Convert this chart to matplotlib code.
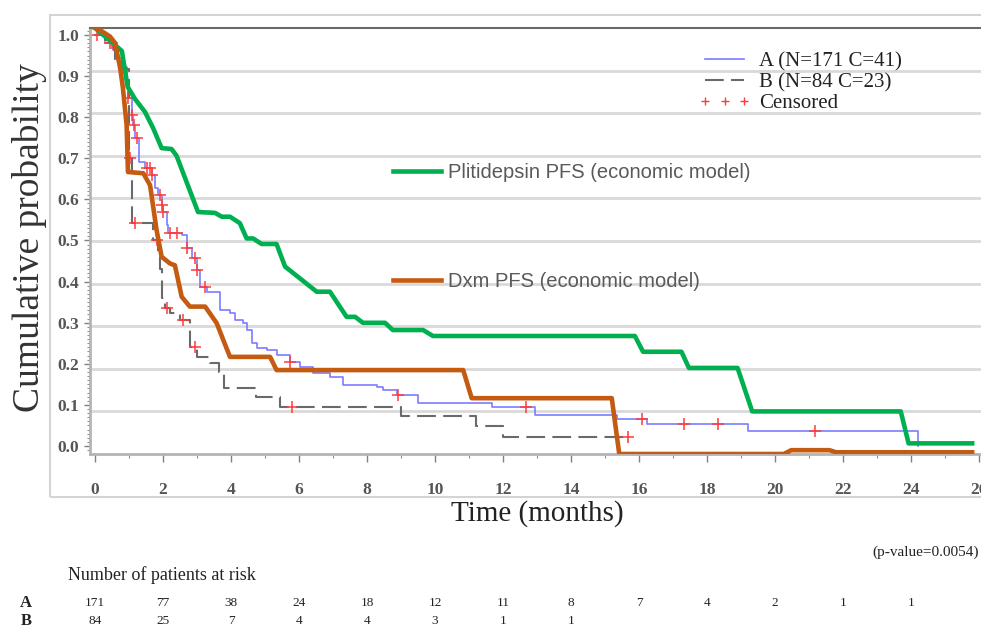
import numpy as np
import matplotlib.pyplot as plt
from matplotlib.lines import Line2D
from matplotlib.patches import Rectangle
from matplotlib.ticker import MultipleLocator, FormatStrFormatter

# --- KM curve A (step, SAS scale) ---
a_t = [0, 0.29, 0.53, 0.64, 0.83, 0.93, 0.98, 1.08, 1.13, 1.18, 1.28, 1.47, 1.67, 1.76,
       1.86, 1.96, 2.01, 2.11, 2.15, 2.55, 2.70, 2.84, 2.99, 3.09, 3.28, 3.68, 3.97, 4.12,
       4.36, 4.46, 4.61, 4.76, 5.05, 5.35, 5.74, 6.03, 6.42, 6.91, 7.30, 8.29, 8.48, 8.87,
       9.50, 11.67, 12.94, 15.34, 16.23, 19.22, 24.2]
a_p = [1.0, 0.98, 0.964, 0.945, 0.923, 0.87, 0.846, 0.805, 0.78, 0.749, 0.692, 0.676, 0.659,
       0.627, 0.611, 0.586, 0.57, 0.538, 0.518, 0.513, 0.481, 0.457, 0.428, 0.388, 0.375,
       0.331, 0.323, 0.307, 0.299, 0.282, 0.25, 0.238, 0.234, 0.221, 0.205, 0.193, 0.177,
       0.169, 0.148, 0.144, 0.136, 0.124, 0.104, 0.096, 0.075, 0.066, 0.054, 0.037, 0.0]
a_cens = [0.05, 0.44, 0.49, 0.98, 1.08, 1.16, 1.23, 1.52, 1.62, 1.67, 1.91, 1.96, 2.01, 2.21,
          2.40, 2.70, 2.94, 2.99, 3.24, 5.74, 8.92, 12.68, 16.10, 17.33, 18.33, 21.19]

# --- KM curve B (step, SAS scale) ---
b_t = [0, 0.30, 0.55, 0.60, 0.80, 1.00, 1.08, 1.72, 1.85, 1.91, 1.98, 2.05, 2.21, 2.50,
       2.79, 2.99, 3.38, 3.65, 3.78, 4.75, 5.45, 9.00, 11.20, 12.00, 15.68]
b_p = [1.0, 0.988, 0.964, 0.94, 0.917, 0.70, 0.542, 0.50, 0.46, 0.43, 0.36, 0.335, 0.323,
       0.307, 0.24, 0.217, 0.201, 0.18, 0.141, 0.12, 0.096, 0.073, 0.049, 0.023, 0.023]
b_cens = [1.03, 1.18, 1.81, 2.11, 2.60, 2.94, 5.79, 15.68]

# --- economic model curves (Excel overlay, own 0-1 scale) ---
pl_t = [0, 0.59, 0.79, 0.96, 1.18, 1.47, 1.71, 1.96, 2.25, 2.40, 3.03, 3.53, 3.73, 3.97,
        4.26, 4.46, 4.65, 4.90, 5.34, 5.59, 6.52, 6.91, 7.40, 7.65, 7.88, 8.53, 8.76, 9.65,
        9.94, 15.88, 16.12, 17.25, 17.47, 18.90, 19.33, 23.70, 23.93, 25.80]
pl_q = [1.0, 0.96, 0.946, 0.862, 0.833, 0.803, 0.765, 0.718, 0.716, 0.70, 0.568, 0.566,
        0.557, 0.557, 0.542, 0.506, 0.506, 0.493, 0.493, 0.44, 0.381, 0.381, 0.322, 0.322,
        0.308, 0.308, 0.291, 0.291, 0.277, 0.277, 0.24, 0.24, 0.202, 0.202, 0.10, 0.10,
        0.025, 0.025]
dx_t = [0, 0.15, 0.44, 0.59, 0.74, 0.82, 0.93, 0.97, 1.42, 1.62, 1.81, 1.96, 2.21, 2.35,
        2.55, 2.79, 3.24, 3.58, 3.87, 3.97, 5.15, 5.34, 10.83, 11.08, 15.20, 15.42, 20.26,
        20.48, 21.60, 21.80, 25.80]
dx_q = [1.0, 0.995, 0.98, 0.965, 0.906, 0.86, 0.772, 0.662, 0.659, 0.631, 0.526, 0.463,
        0.447, 0.443, 0.369, 0.346, 0.346, 0.307, 0.248, 0.228, 0.228, 0.197, 0.197, 0.131,
        0.131, 0.0, 0.0, 0.009, 0.009, 0.004, 0.004]

grid_levels = [0.1, 0.2, 0.3, 0.4, 0.5, 0.6, 0.7, 0.8, 0.9]

risk_times = [0, 2, 4, 6, 8, 10, 12, 14, 16, 18, 20, 22, 24]
risk_a = [171, 77, 38, 24, 18, 12, 11, 8, 7, 4, 2, 1, 1]
risk_b = [84, 25, 7, 4, 4, 3, 1, 1]

serif = 'Liberation Serif'
sans = 'Liberation Sans'

fig = plt.figure(figsize=(9.81, 6.28), dpi=100, facecolor='white')
pos = [90 / 981, 174 / 628, 891 / 981, 426 / 628]
xlim = (-0.147, 26.06)

# outer light frame
fig.patches.append(Rectangle((50 / 981, 131 / 628), 0.96, 482 / 628, transform=fig.transFigure,
                             fill=False, edgecolor='#d4d4d4', lw=1.5))

# gridlines of the overlay
ax_grid = fig.add_axes(pos)
ax_grid.set_xlim(xlim)
ax_grid.set_ylim(0, 1)
ax_grid.axis('off')
for g in grid_levels:
    ax_grid.axhline(g, color='#d9d9d9', lw=2)

# SAS Kaplan-Meier axes
ax = fig.add_axes(pos)
ax.patch.set_alpha(0)
ax.set_xlim(xlim)
ax.set_ylim(-0.0195, 1.017)


def step_val(ts, ps, t):
    i = np.searchsorted(ts, t, side='right') - 1
    return np.array(ps)[i]


ax.step(a_t, a_p, where='post', color='#7b7bff', lw=1.2)
ax.step(b_t, b_p, where='post', color='#6a6a6a', lw=1.5, dashes=(9, 3.5))
ax.plot(a_cens, step_val(a_t, a_p, a_cens), ls='none', marker='+', ms=8, mew=1.1, color='#ff3b3b')
ax.plot(b_cens, step_val(b_t, b_p, b_cens), ls='none', marker='+', ms=8, mew=1.1, color='#ff3b3b')

ax.yaxis.set_minor_locator(MultipleLocator(0.01))
ax.yaxis.set_major_formatter(FormatStrFormatter('%.1f'))
ax.xaxis.set_major_locator(MultipleLocator(2))
ax.xaxis.set_minor_locator(MultipleLocator(1))
ax.set_yticks(np.arange(0, 1.01, 0.1))
ax.tick_params(axis='y', which='major', length=4, width=1, color='#808080', pad=4)
ax.tick_params(axis='y', which='minor', length=2, width=0.8, color='#909090')
ax.tick_params(axis='x', which='major', length=6, width=1, color='#808080', pad=14)
ax.tick_params(axis='x', which='minor', length=3, width=0.8, color='#909090')
for lab in ax.get_yticklabels() + ax.get_xticklabels():
    lab.set_fontfamily(serif)
    lab.set_fontsize(12.5)
    lab.set_fontweight('bold')
    lab.set_color('#555555')
ax.spines['top'].set_color('#6a6a6a')
ax.spines['top'].set_linewidth(1.5)
ax.spines['right'].set_visible(False)
for s in ['left', 'bottom']:
    ax.spines[s].set_color('#b4b4b4')
    ax.spines[s].set_linewidth(2)

handles = [Line2D([], [], color='#7b7bff', lw=1.2),
           Line2D([], [], color='#6a6a6a', lw=1.5, dashes=(9, 3.5)),
           Line2D([], [], ls='none', marker='+', ms=6, mew=1, color='#ff3b3b')]
leg = ax.legend(handles, ['A (N=171 C=41)', 'B (N=84 C=23)', 'Censored'],
                loc='upper left', bbox_to_anchor=(0.683, 0.945), frameon=False, numpoints=3,
                prop={'family': serif, 'size': 15}, labelspacing=0.07, handlelength=2.5,
                handletextpad=0.4, borderpad=0, borderaxespad=0)
for t in leg.get_texts():
    t.set_color('#222222')

# economic model overlay
ax_xl = fig.add_axes(pos)
ax_xl.patch.set_alpha(0)
ax_xl.set_xlim(xlim)
ax_xl.set_ylim(0, 1)
ax_xl.axis('off')
l_pl, = ax_xl.plot(pl_t, pl_q, color='#00b050', lw=3.3, solid_joinstyle='round')
l_dx, = ax_xl.plot(dx_t, dx_q, color='#c55a11', lw=3.3, solid_joinstyle='round')
leg1 = ax_xl.legend([l_pl], ['Plitidepsin PFS (economic model)'], loc='center left',
                    bbox_to_anchor=(0.34, 0.66), frameon=False, prop={'family': sans, 'size': 14.5},
                    handlelength=2.4, handletextpad=0.35, borderpad=0, borderaxespad=0)
leg1.get_texts()[0].set_color('#595959')
ax_xl.add_artist(leg1)
leg2 = ax_xl.legend([l_dx], ['Dxm PFS (economic model)'], loc='center left',
                    bbox_to_anchor=(0.34, 0.404), frameon=False, prop={'family': sans, 'size': 14.5},
                    handlelength=2.4, handletextpad=0.35, borderpad=0, borderaxespad=0)
leg2.get_texts()[0].set_color('#595959')

fig.text(30 / 981, 1 - 238 / 628, 'Cumulative probability', rotation=90, ha='center', va='center',
         family=serif, fontsize=27, color='#333333')
fig.text(537 / 981, 1 - 514 / 628, 'Time (months)', ha='center', va='center',
         family=serif, fontsize=21, color='#222222')

# at-risk table
fig.text(979 / 981, 1 - 552 / 628, '(p-value=0.0054)', ha='right', va='center',
         family=serif, fontsize=11, color='#222222')
fig.text(68 / 981, 1 - 575 / 628, 'Number of patients at risk', ha='left', va='center',
         family=serif, fontsize=13, color='#222222')
fig.text(26 / 981, 1 - 603 / 628, 'A', ha='center', va='center', family=serif,
         fontsize=12, fontweight='bold', color='#222222')
fig.text(26 / 981, 1 - 621 / 628, 'B', ha='center', va='center', family=serif,
         fontsize=12, fontweight='bold', color='#222222')
tr = ax.get_xaxis_transform()
for t, n in zip(risk_times, risk_a):
    ax.text(t, -(603 - 454) / 426, str(n), transform=tr, ha='center', va='center',
            family=serif, fontsize=9.5, color='#222222', clip_on=False)
for t, n in zip(risk_times, risk_b):
    ax.text(t, -(621 - 454) / 426, str(n), transform=tr, ha='center', va='center',
            family=serif, fontsize=9.5, color='#222222', clip_on=False)

fig.savefig('out.png', dpi=100)
